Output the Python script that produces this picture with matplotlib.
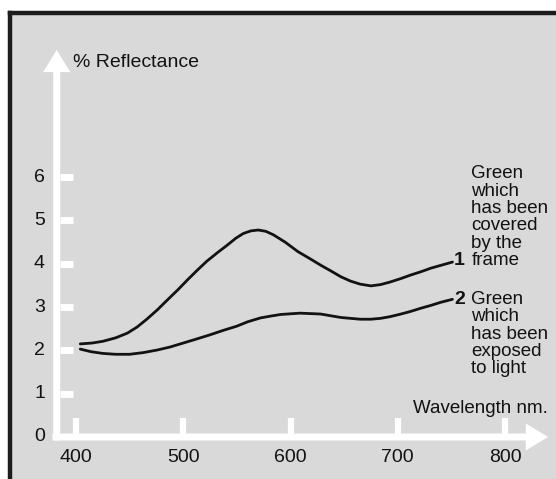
import matplotlib
matplotlib.use("Agg")
import matplotlib.pyplot as plt
from matplotlib.patches import Rectangle
from matplotlib.lines import Line2D

plt.rcParams['font.family'] = ['Liberation Sans', 'DejaVu Sans']

# curve 1: green covered by the frame
wl_covered = [404, 415, 425, 437, 448, 457, 466, 476, 485, 495, 504, 513, 522, 532,
              541, 549, 556, 563, 570, 577, 584, 595, 607, 618, 628, 638, 647, 656,
              665, 675, 684, 693, 703, 712, 722, 731, 741, 751]
refl_covered = [2.15, 2.17, 2.21, 2.29, 2.40, 2.54, 2.72, 2.94, 3.16, 3.40, 3.63, 3.85,
                4.06, 4.26, 4.43, 4.59, 4.70, 4.76, 4.78, 4.75, 4.67, 4.50, 4.28, 4.12,
                3.97, 3.83, 3.70, 3.60, 3.53, 3.49, 3.52, 3.58, 3.66, 3.74, 3.82, 3.90,
                3.97, 4.04]

# curve 2: green exposed to light
wl_exposed = [404, 414, 425, 437, 450, 463, 476, 488, 500, 512, 525, 537, 550, 560,
              572, 581, 591, 609, 628, 647, 665, 675, 684, 693, 703, 712, 721, 731,
              740, 751]
refl_exposed = [2.03, 1.97, 1.93, 1.91, 1.91, 1.95, 2.01, 2.08, 2.17, 2.26, 2.36, 2.46,
                2.56, 2.66, 2.75, 2.79, 2.83, 2.86, 2.84, 2.76, 2.72, 2.72, 2.74, 2.78,
                2.84, 2.90, 2.97, 3.04, 3.11, 3.18]

x_ticks = [400, 500, 600, 700, 800]
y_ticks = [0, 1, 2, 3, 4, 5, 6]

label_covered = "Green\nwhich\nhas been\ncovered\nby the\nframe"
label_exposed = "Green\nwhich\nhas been\nexposed\nto light"

bg = '#d9d9d9'
ink = '#121212'

fig = plt.figure(figsize=(5.56, 4.79), dpi=100)
fig.patch.set_facecolor('white')

# grey page with dark frame on left and top
fig.add_artist(Rectangle((0.0171, 0), 1 - 0.0171, 0.9729, transform=fig.transFigure,
                         facecolor=bg, edgecolor='none', zorder=0))
fig.add_artist(Line2D([0.0171, 0.0171], [0, 0.9729], transform=fig.transFigure,
                      color='#1c1c1c', lw=3.2, solid_capstyle='projecting'))
fig.add_artist(Line2D([0.0171, 1.0], [0.9729, 0.9729], transform=fig.transFigure,
                      color='#1c1c1c', lw=3.2, solid_capstyle='projecting'))

ax = fig.add_axes([0, 0, 1, 1])
ax.set_xlim(329.14, 847.55)
ax.set_ylim(-0.970, 10.092)
ax.axis('off')
ax.patch.set_alpha(0)

y_axis_x = 382
arrow = 'simple,head_length=16,head_width=19.5,tail_width=5'
ax.annotate('', xy=(y_axis_x, 8.94), xytext=(y_axis_x, -0.08),
            arrowprops=dict(arrowstyle=arrow, mutation_scale=1, fc='white',
                            ec='none', shrinkA=0, shrinkB=0))
ax.annotate('', xy=(840.1, 0), xytext=(378, 0),
            arrowprops=dict(arrowstyle=arrow, mutation_scale=1, fc='white',
                            ec='none', shrinkA=0, shrinkB=0))

# tick marks
for v in y_ticks[1:]:
    ax.plot([385, 397], [v, v], color='white', lw=5, solid_capstyle='butt')
for w in x_ticks:
    ax.plot([w, w], [0, 0.44], color='white', lw=4.5, solid_capstyle='butt')

# tick labels
for v in y_ticks:
    ax.text(371, v, str(v), ha='right', va='center', fontsize=14, color=ink)
for w in x_ticks:
    ax.text(w, -0.47, str(w), ha='center', va='center', fontsize=14, color=ink)

ax.text(397, 8.55, "% Reflectance", ha='left', va='baseline', fontsize=14, color=ink)
ax.text(840.1, 0.56, "Wavelength nm.", ha='right', va='baseline', fontsize=13.5, color=ink)

ax.plot(wl_covered, refl_covered, color=ink, lw=2.0, solid_capstyle='round')
ax.plot(wl_exposed, refl_exposed, color=ink, lw=2.0, solid_capstyle='round')

# multi-line labels: baseline alignment refers to the last line
ax.text(762.7, 3.97, "1", ha='right', va='baseline', fontsize=14, fontweight='bold', color=ink)
ax.text(762.7, 3.07, "2", ha='right', va='baseline', fontsize=14, fontweight='bold', color=ink)
ax.text(768.6, 3.97, label_covered, ha='left', va='baseline', fontsize=13.5,
        linespacing=1.03, color=ink)
ax.text(768.6, 1.47, label_exposed, ha='left', va='baseline', fontsize=13.5,
        linespacing=1.03, color=ink)

fig.savefig('out.png', dpi=100, facecolor=fig.get_facecolor())
